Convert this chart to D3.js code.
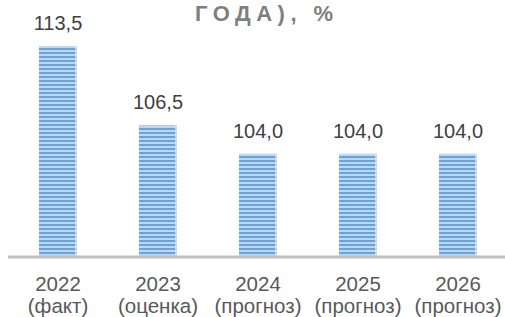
<!DOCTYPE html>
<html><head><meta charset="utf-8">
<script src="https://cdn.jsdelivr.net/npm/d3@7"></script>
<style>html,body{margin:0;padding:0;background:#fff;overflow:hidden}</style>
</head><body>
<script>
const years = ["2022","2023","2024","2025","2026"];
const notes = ["(факт)","(оценка)","(прогноз)","(прогноз)","(прогноз)"];
const values = [113.5, 106.5, 104.0, 104.0, 104.0];
const titleText = "ГОДА), %";

const W = 505, H = 317;
const svg = d3.select("body").append("svg").attr("width", W).attr("height", H);
const font = "'Liberation Sans', Arial, sans-serif";

const defs = svg.append("defs");
const pat = defs.append("pattern").attr("id","stripes").attr("patternUnits","userSpaceOnUse")
  .attr("width", 8).attr("height", 4);
pat.append("rect").attr("width",8).attr("height",4).attr("fill","#bcd7f1");
pat.append("rect").attr("y",0).attr("width",8).attr("height",2).attr("fill","#6aa3dc");

const x = d3.scaleBand().domain(years).range([8, 508]).paddingInner(0.62).paddingOuter(0.31);
const y = d3.scaleLinear().domain([95, 115]).range([256, 29]);

// title fragment
svg.append("text").attr("x", 195).attr("y", 21)
  .attr("font-family", font).attr("font-weight","bold").attr("font-size", 22)
  .attr("letter-spacing", 5.5).attr("fill", "#7f7f7f").text(titleText);

const g = svg.append("g");
g.selectAll("rect.bar").data(values).join("rect").attr("class","bar")
  .attr("x", (d,i) => x(years[i])).attr("width", x.bandwidth())
  .attr("y", d => y(d)).attr("height", d => y(95) - y(d))
  .attr("fill", "url(#stripes)");
// soft light edges
g.selectAll("rect.edge").data(values).join("rect").attr("class","edge")
  .attr("x", (d,i) => x(years[i]) + x.bandwidth() - 2).attr("width", 2)
  .attr("y", d => y(d)).attr("height", d => y(95) - y(d))
  .attr("fill", "#d6e8f8").attr("opacity", 0.7);

g.selectAll("text.val").data(values).join("text").attr("class","val")
  .attr("x", (d,i) => x(years[i]) + x.bandwidth()/2).attr("y", d => y(d) - 16)
  .attr("text-anchor","middle").attr("font-family", font).attr("font-size", 20)
  .attr("fill", "#404040").text(d => d.toFixed(1).replace(".", ","));

// axis line
const axis = d3.axisBottom(x).tickSize(0).tickFormat("");
const ag = svg.append("g").attr("transform", `translate(0,${y(95)+1})`).call(axis);
ag.select(".domain").attr("stroke", "#bfbfbf").attr("stroke-width", 3).attr("d", "M8,0H505");

const lab = svg.append("g");
lab.selectAll("text").data(years).join("text")
  .attr("x", d => x(d) + x.bandwidth()/2).attr("y", 291)
  .attr("text-anchor","middle").attr("font-family", font).attr("font-size", 20.5)
  .attr("fill", "#595959")
  .each(function(d,i){
    const t = d3.select(this);
    t.append("tspan").attr("x", x(d) + x.bandwidth()/2).text(d);
    t.append("tspan").attr("x", x(d) + x.bandwidth()/2).attr("dy", 22).text(notes[i]);
  });
</script>
</body></html>
